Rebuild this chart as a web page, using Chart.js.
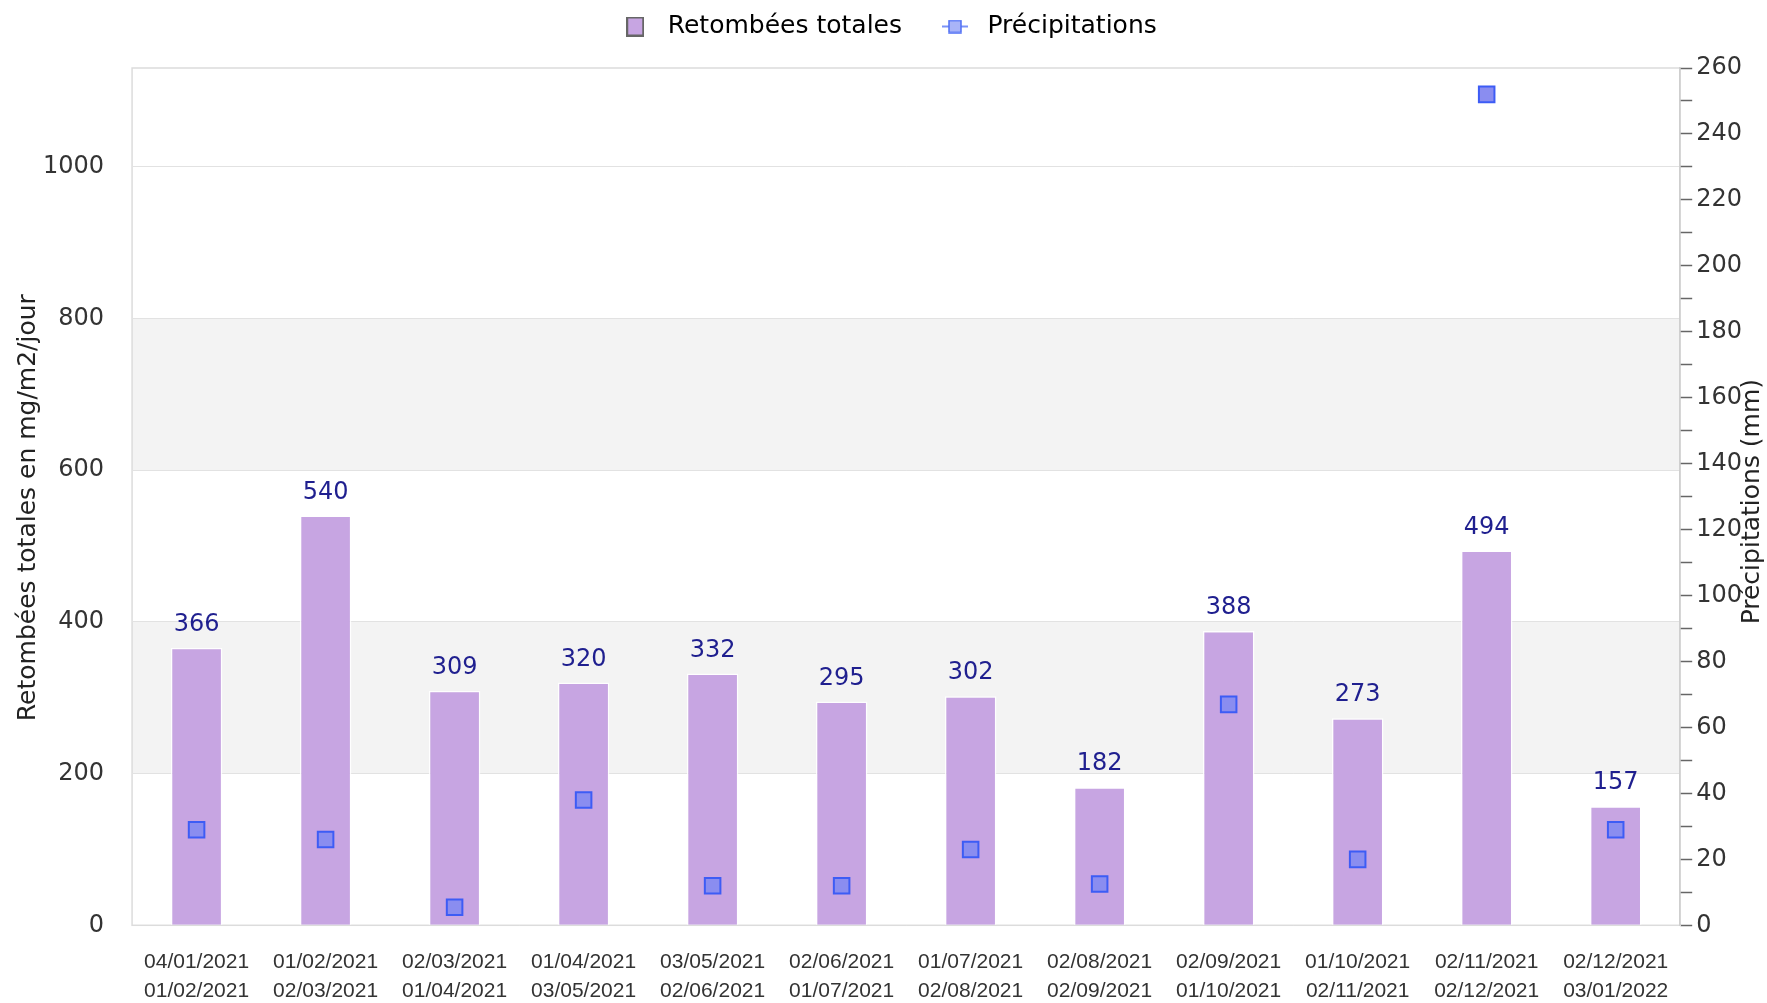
<!DOCTYPE html>
<html>
<head>
<meta charset="utf-8">
<script src="https://cdn.jsdelivr.net/npm/chart.js@4.4.0/dist/chart.umd.min.js"></script>
<style>
  html, body { margin: 0; padding: 0; background: #fff; }
  #wrap { width: 1767px; height: 1003px; }
</style>
</head>
<body>
<div id="wrap"><canvas id="myChart"></canvas></div>
<script>
// periods (start / end of each sampling)
let startDates = ['04/01/2021', '01/02/2021', '02/03/2021', '01/04/2021', '03/05/2021', '02/06/2021',
                  '01/07/2021', '02/08/2021', '02/09/2021', '01/10/2021', '02/11/2021', '02/12/2021'];
let endDates = ['01/02/2021', '02/03/2021', '01/04/2021', '03/05/2021', '02/06/2021', '01/07/2021',
                '02/08/2021', '02/09/2021', '01/10/2021', '02/11/2021', '02/12/2021', '03/01/2022'];

// values
let retombees = [366, 540, 309, 320, 332, 295, 302, 182, 388, 273, 494, 157];
let precipitations = [29, 26, 5.5, 38, 12, 12, 23, 12.5, 67, 20, 252, 29];

// axis ticks
let leftTicks = [0, 200, 400, 600, 800, 1000];
let shadedBands = [[200, 400], [600, 800]];

let labels = startDates.map((s, i) => [s, endDates[i]]);

// legend markers
let barMarker = document.createElement('canvas');
barMarker.width = 18;
barMarker.height = 20;
(function () {
    let c = barMarker.getContext('2d');
    c.fillStyle = '#c7a5e2';
    c.strokeStyle = '#666';
    c.lineWidth = 2;
    c.fillRect(1, 1, 16, 18);
    c.strokeRect(1, 1, 16, 18);
})();

let precipMarker = document.createElement('canvas');
precipMarker.width = 26;
precipMarker.height = 14;
(function () {
    let c = precipMarker.getContext('2d');
    c.strokeStyle = '#4f6ff5';
    c.lineWidth = 1.5;
    c.beginPath(); c.moveTo(0, 7); c.lineTo(26, 7); c.stroke();
    c.fillStyle = '#a9b4f8';
    c.fillRect(7, 1, 12, 12);
    c.strokeRect(7, 1, 12, 12);
})();

// grey bands + frame behind the plot
const bandsPlugin = {
    id: 'bands',
    beforeDraw(chart) {
        const {ctx, chartArea: a, scales: {y}} = chart;
        ctx.save();
        ctx.fillStyle = '#f3f3f3';
        shadedBands.forEach(b => {
            const top = y.getPixelForValue(b[1]);
            const bot = y.getPixelForValue(b[0]);
            ctx.fillRect(a.left, top, a.right - a.left, bot - top);
        });
        ctx.strokeStyle = '#dcdcdc';
        ctx.lineWidth = 1.5;
        ctx.strokeRect(a.left, a.top, a.right - a.left, a.bottom - a.top);
        ctx.restore();
    }
};

// value labels above bars
const valueLabels = {
    id: 'valueLabels',
    afterDatasetsDraw(chart) {
        const {ctx} = chart;
        const meta = chart.getDatasetMeta(0);
        ctx.save();
        ctx.font = '24px "DejaVu Sans"';
        ctx.fillStyle = '#1f1f8f';
        ctx.textAlign = 'center';
        ctx.textBaseline = 'middle';
        meta.data.forEach((bar, i) => {
            ctx.fillText(retombees[i], bar.x, bar.y - 23);
        });
        ctx.restore();
    }
};

// axis titles drawn by hand (the left one keeps a hidden Chart.js title for spacing)
const axisTitles = {
    id: 'axisTitles',
    afterDraw(chart) {
        const {ctx, chartArea: a} = chart;
        const mid = (a.top + a.bottom) / 2;
        ctx.save();
        ctx.font = '25px "DejaVu Sans"';
        ctx.fillStyle = '#222';
        ctx.textAlign = 'center';
        ctx.textBaseline = 'middle';
        ctx.save();
        ctx.translate(28, mid + 11);
        ctx.rotate(-Math.PI / 2);
        ctx.fillText('Retombées totales en mg/m2/jour', 0, 0);
        ctx.restore();
        ctx.translate(chart.width - 15, mid + 5);
        ctx.rotate(-Math.PI / 2);
        ctx.fillText('Précipitations (mm)', 0, 0);
        ctx.restore();
    }
};

// legend height fix and small horizontal offset
const legendFit = {
    id: 'legendFit',
    beforeInit(chart) {
        const fit = chart.legend.fit;
        chart.legend.fit = function () {
            fit.bind(chart.legend)();
            this.height = 87;
        };
    },
    afterLayout(chart) {
        chart.legend.left += 13;
        chart.legend.right += 13;
    }
};

let ctx = document.getElementById('myChart').getContext('2d');
let chart = new Chart(ctx, {
    type: 'bar',
    data: {
        labels: labels,
        datasets: [{
            label: 'Retombées totales',
            data: retombees,
            backgroundColor: '#c7a5e2',
            borderColor: 'rgba(255,255,255,0.85)',
            borderWidth: 1.5,
            barPercentage: 0.4,
            categoryPercentage: 1,
            yAxisID: 'y',
            order: 1
        }, {
            label: 'Précipitations',
            type: 'line',
            data: precipitations,
            showLine: false,
            pointStyle: 'rect',
            pointRadius: 11,
            pointBackgroundColor: '#8a8df0',
            pointBorderColor: '#3d5cf5',
            pointBorderWidth: 2,
            yAxisID: 'y1',
            order: 0
        }]
    },
    options: {
        responsive: true,
        maintainAspectRatio: false,
        animation: false,
        layout: { padding: { top: -19, left: 0, right: 21, bottom: -25 } },
        plugins: {
            tooltip: { enabled: false },
            legend: {
                position: 'top',
                labels: {
                    usePointStyle: true,
                    pointStyleWidth: 40,
                    boxHeight: 18,
                    padding: 33,
                    color: '#222',
                    font: { family: '"DejaVu Sans"', size: 25 },
                    generateLabels(chart) {
                        const ds = chart.data.datasets;
                        return [
                            { text: ds[0].label, fillStyle: '#c7a5e2', strokeStyle: '#666', lineWidth: 1.5, pointStyle: barMarker, datasetIndex: 0 },
                            { text: ds[1].label, fillStyle: '#a9b4f8', strokeStyle: '#4f6ff5', lineWidth: 1.5, pointStyle: precipMarker, datasetIndex: 1 }
                        ];
                    }
                }
            }
        },
        scales: {
            x: {
                grid: { display: false, drawTicks: false },
                border: { color: '#dcdcdc' },
                ticks: {
                    color: '#333',
                    maxRotation: 0,
                    autoSkip: false,
                    padding: 23,
                    font: { family: '"Liberation Sans", Arial', size: 21, lineHeight: 1.35 }
                }
            },
            y: {
                position: 'left',
                min: 0,
                max: 1130,
                afterBuildTicks(axis) {
                    axis.ticks = leftTicks.map(v => ({ value: v }));
                },
                grid: { color: '#e2e2e2', drawTicks: false },
                border: { display: false },
                ticks: {
                    color: '#333',
                    padding: 28,
                    font: { family: '"DejaVu Sans"', size: 24 },
                    callback: v => String(v)
                },
                title: {
                    display: true,
                    text: 'Retombées totales en mg/m2/jour',
                    color: 'rgba(0,0,0,0)',
                    padding: { top: 13, bottom: -28 },
                    font: { family: '"DejaVu Sans"', size: 25 }
                }
            },
            y1: {
                position: 'right',
                min: 0,
                max: 260,
                grid: { drawOnChartArea: false, tickLength: 12, tickColor: '#666', tickWidth: 1.5 },
                border: { color: '#cfcfcf', width: 1.5 },
                ticks: {
                    stepSize: 10,
                    autoSkip: false,
                    color: '#333',
                    padding: 4,
                    font: { family: '"DejaVu Sans"', size: 24 },
                    callback: v => (v % 20 === 0 ? String(v) : '')
                }
            }
        }
    },
    plugins: [legendFit, bandsPlugin, valueLabels, axisTitles]
});
</script>
</body>
</html>
